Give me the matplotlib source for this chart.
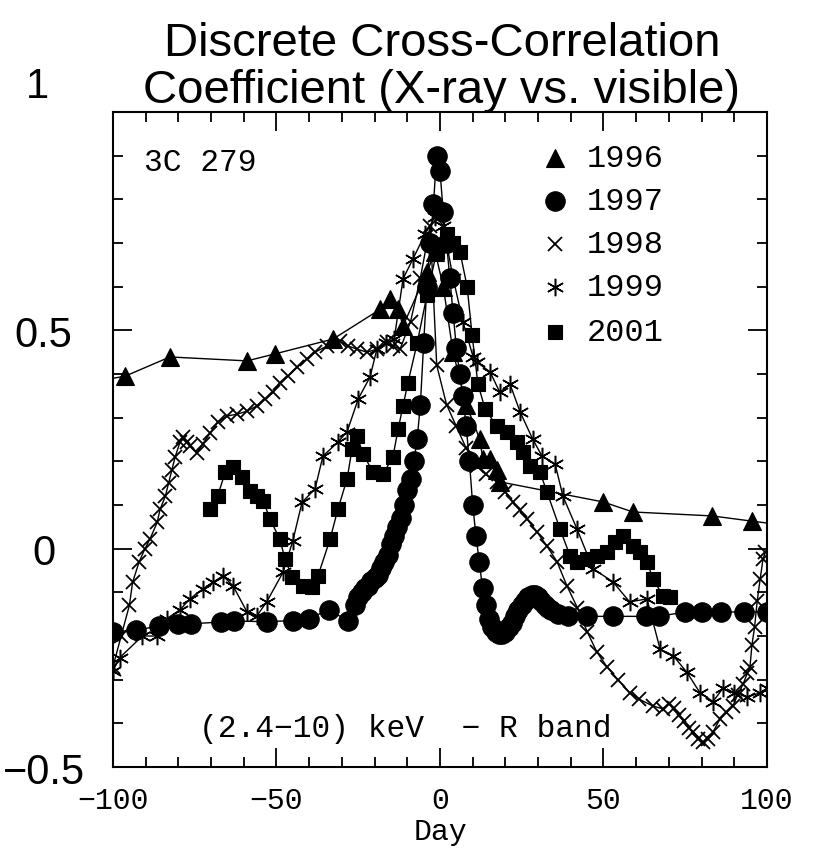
import matplotlib
matplotlib.use('Agg')
import matplotlib.pyplot as plt
from matplotlib.ticker import MultipleLocator, FuncFormatter

# ---------------- data ----------------
x96 = [-104, -96.3, -82.6, -59, -50.5, -32.7, -18.3, -15.3, -12.8, -11.3, -4, -1.5, 1, 4, 8,
       12.2, 13.1, 15.3, 17.4, 18.3, 49.9, 59, 83.2, 95.4, 104]
y96 = [0.385, 0.395, 0.439, 0.43, 0.446, 0.48, 0.548, 0.572, 0.548, 0.51, 0.633, 0.68, 0.6, 0.45, 0.33,
       0.25, 0.205, 0.205, 0.18, 0.153, 0.107, 0.084, 0.075, 0.063, 0.055]

x97 = [-100, -93, -86, -80, -76, -67, -63, -53, -45, -40,
       -34, -28, -26, -25, -24, -23, -22, -21, -20, -19,
       -18, -17, -16, -15, -14, -13, -12, -11, -10, -9,
       -8, -7, -6, -5, -4, -3, -2, -1, 0, 1,
       2, 3, 4, 5, 6, 7, 8, 9, 10, 11,
       12, 13, 14, 15, 16, 17, 18, 19, 20, 21,
       22, 23, 24, 25, 26, 27, 28, 29, 30, 31,
       32, 33, 34, 36, 39, 45, 53, 63, 67, 75,
       80, 86, 93, 100]
y97 = [-0.19, -0.187, -0.177, -0.173, -0.172, -0.168, -0.166, -0.167, -0.165, -0.16,
       -0.14, -0.166, -0.13, -0.11, -0.1, -0.09, -0.085, -0.075, -0.068, -0.06,
       -0.045, -0.03, -0.015, 0.01, 0.03, 0.05, 0.07, 0.1, 0.135, 0.16,
       0.2, 0.25, 0.33, 0.47, 0.6, 0.7, 0.79, 0.9, 0.865, 0.77,
       0.7, 0.62, 0.54, 0.46, 0.4, 0.35, 0.28, 0.2, 0.1, 0.03,
       -0.03, -0.09, -0.13, -0.16, -0.18, -0.19, -0.195, -0.195, -0.19, -0.18,
       -0.17, -0.155, -0.14, -0.13, -0.12, -0.11, -0.107, -0.105, -0.11, -0.12,
       -0.13, -0.135, -0.14, -0.15, -0.155, -0.155, -0.155, -0.155, -0.155, -0.145,
       -0.145, -0.145, -0.145, -0.145]

x98 = [-100, -97.5, -95, -94, -92, -90.2, -88.7, -86.5, -85.6, -84,
       -83, -82, -81, -79.5, -78.6, -77.5, -76.5, -74.3, -72.5, -70.3,
       -67.9, -65, -62, -59, -56, -53.5, -51, -49, -46.5, -43.7,
       -40.7, -38.2, -34.6, -30.6, -28, -25.4, -22.3, -19.3, -16.2, -14.4,
       -12.2, -9, -6, -3, -1, 2, 5, 8, 11.3, 14,
       17.4, 20, 22.3, 24.5, 26.6, 29.7, 32.7, 35.8, 38.8, 42,
       45, 48, 51, 54.4, 58, 61, 65, 68.2, 70, 71.5,
       73, 74.5, 76, 77.5, 79, 80.4, 82, 83.5, 85.6, 87.5,
       89.6, 91, 92.7, 94, 94.8, 95.4, 96.2, 97, 97.9, 98.8,
       99.5]
y98 = [-0.27, -0.2, -0.13, -0.077, -0.03, 0.0, 0.022, 0.06, 0.09, 0.12,
       0.15, 0.18, 0.21, 0.244, 0.255, 0.245, 0.235, 0.22, 0.24, 0.265,
       0.29, 0.304, 0.308, 0.315, 0.327, 0.343, 0.358, 0.38, 0.395, 0.415,
       0.435, 0.45, 0.464, 0.475, 0.464, 0.457, 0.45, 0.457, 0.473, 0.464,
       0.457, 0.52, 0.62, 0.74, 0.42, 0.33, 0.28, 0.23, 0.19, 0.17,
       0.153, 0.13, 0.107, 0.088, 0.068, 0.038, 0.006, -0.03, -0.085, -0.135,
       -0.19, -0.237, -0.27, -0.3, -0.33, -0.345, -0.36, -0.367, -0.355, -0.365,
       -0.38, -0.395, -0.41, -0.42, -0.435, -0.443, -0.435, -0.42, -0.39, -0.375,
       -0.36, -0.335, -0.31, -0.285, -0.27, -0.22, -0.18, -0.12, -0.07, -0.023,
       -0.008]

x99 = [-100, -98, -91, -86.5, -83.5, -79.5, -76.5, -72.5, -69.4, -66.4,
       -63.3, -59, -56, -53, -48, -45, -42.2, -38.2, -35.8, -31.2,
       -28.4, -25, -21.4, -19.3, -16.5, -14, -11.3, -8.3, -4.6, -1.5,
       1, 4, 7, 10.1, 11.3, 15.3, 18.3, 21.4, 24.5, 28.4,
       31.2, 35.2, 37.6, 41.9, 46.8, 52.9, 58, 63.3, 67.3, 71.3,
       75.5, 79.5, 83.5, 86.5, 90, 93.9, 97.9, 100]
y99 = [-0.28, -0.25, -0.2, -0.2, -0.16, -0.14, -0.115, -0.092, -0.077, -0.062,
       -0.085, -0.145, -0.154, -0.122, -0.054, 0.018, 0.106, 0.137, 0.212, 0.244,
       0.268, 0.343, 0.393, 0.457, 0.47, 0.48, 0.618, 0.663, 0.72, 0.76,
       0.74, 0.62, 0.52, 0.44, 0.427, 0.405, 0.358, 0.377, 0.313, 0.25,
       0.212, 0.194, 0.12, 0.045, -0.046, -0.076, -0.122, -0.115, -0.23, -0.245,
       -0.283, -0.33, -0.35, -0.32, -0.33, -0.34, -0.33, -0.32]

x01 = [-70.3, -68, -65.7, -63.3, -60.6, -58, -56, -54, -52, -49,
       -47.4, -45.3, -41.9, -39, -37.3, -33.6, -31.2, -28.4, -26.9, -25.4,
       -23.5, -20.5, -17.4, -14.4, -12.8, -11.3, -9.8, -7, -4, -1,
       2, 4, 6.1, 8.3, 9.8, 11.6, 13.8, 17.4, 20.5, 23.5,
       25.4, 27.5, 30.6, 32.7, 36.7, 39.8, 41.9, 45, 48, 51,
       53.5, 56, 59, 61.2, 63.3, 65.1, 68.2, 70.3]
y01 = [0.09, 0.12, 0.175, 0.187, 0.164, 0.132, 0.12, 0.109, 0.068, 0.022,
       -0.023, -0.065, -0.085, -0.087, -0.062, 0.022, 0.091, 0.16, 0.228, 0.258,
       0.217, 0.175, 0.171, 0.21, 0.274, 0.327, 0.38, 0.47, 0.58, 0.68,
       0.72, 0.7, 0.68, 0.6, 0.49, 0.377, 0.32, 0.28, 0.267, 0.244,
       0.221, 0.19, 0.175, 0.13, 0.045, -0.017, -0.03, -0.023, -0.017, -0.008,
       0.015, 0.029, 0.006, -0.008, -0.03, -0.069, -0.108, -0.11]

legend_labels = ["1996", "1997", "1998", "1999", "2001"]
legend_y = [0.895, 0.796, 0.698, 0.600, 0.496]

# ---------------- styles ----------------
ASTER = (6, 2, 0)
styles = [
    dict(marker='^', ms=12.5, mfc='k', mec='k', mew=0.8),
    dict(marker='o', ms=14, mfc='k', mec='k', mew=0.8),
    dict(marker='x', ms=10, mfc='none', mec='k', mew=1.3),
    dict(marker=ASTER, ms=12.5, mfc='none', mec='k', mew=1.1),
    dict(marker='s', ms=10.5, mfc='k', mec='k', mew=0.8),
]
series = [(x96, y96), (x97, y97), (x98, y98), (x99, y99), (x01, y01)]

MONO = ['Liberation Mono', 'DejaVu Sans Mono']
SANS = ['Liberation Sans', 'DejaVu Sans']

fig = plt.figure(figsize=(8.17, 8.54), dpi=100)
ax = fig.add_axes([0.1383, 0.1007, 0.8005, 0.767])

for (xs, ys), st in zip(series, styles):
    ax.plot(xs, ys, color='k', lw=1.0, **st)

ax.set_xlim(-100, 100)
ax.set_ylim(-0.5, 1.0)
ax.xaxis.set_major_locator(MultipleLocator(50))
ax.xaxis.set_minor_locator(MultipleLocator(10))
ax.yaxis.set_major_locator(MultipleLocator(0.5))
ax.yaxis.set_minor_locator(MultipleLocator(0.1))


def yfmt(v, pos):
    if abs(v - 1) < 1e-9:
        return ''
    if abs(v) < 1e-9:
        return '0'
    return ('%g' % v).replace('-', '\u2212')


def xfmt(v, pos):
    return ('%d' % round(v)).replace('-', '\u2212')


ax.yaxis.set_major_formatter(FuncFormatter(yfmt))
ax.xaxis.set_major_formatter(FuncFormatter(xfmt))

ax.tick_params(which='both', direction='in', top=True, right=True, width=1.3)
ax.tick_params(which='major', length=14)
ax.tick_params(which='minor', length=7)
ax.tick_params(axis='x', labelsize=21.5, pad=14)
ax.tick_params(axis='y', labelsize=30, pad=50)
for lab in ax.get_xticklabels():
    lab.set_family(MONO)
for lab in ax.get_yticklabels():
    lab.set_family(SANS)
    lab.set_horizontalalignment('center')
for sp in ax.spines.values():
    sp.set_linewidth(1.5)

# "1" label sits above the frame in the reference
ax.text(-0.115, 1.04, '1', transform=ax.transAxes, ha='center', va='center',
        fontsize=30, family=SANS)

ax.set_xlabel('Day', fontsize=21.5, family=MONO, labelpad=2)

# annotations
ax.text(-73.4, 0.885, '3C 279', ha='center', va='center', fontsize=22.5, family=MONO)
ax.text(-10.7, -0.41, '(2.4\u221210) keV  \u2212 R band', ha='center', va='center',
        fontsize=22.5, family=MONO)

# legend drawn in data coordinates
for lab, ly, st in zip(legend_labels, legend_y, styles):
    ax.plot([35.2], [ly], linestyle='none', color='k', **st)
    ax.text(45.0, ly, lab, ha='left', va='center', fontsize=23, family=MONO)

fig.text(0.541, 1 - 56 / 854, 'Discrete Cross-Correlation',
         ha='center', va='baseline', fontsize=34, family=SANS)
fig.text(0.541, 1 - 103 / 854, 'Coefficient (X-ray vs. visible)',
         ha='center', va='baseline', fontsize=34, family=SANS)

fig.savefig('out.png', dpi=100)
